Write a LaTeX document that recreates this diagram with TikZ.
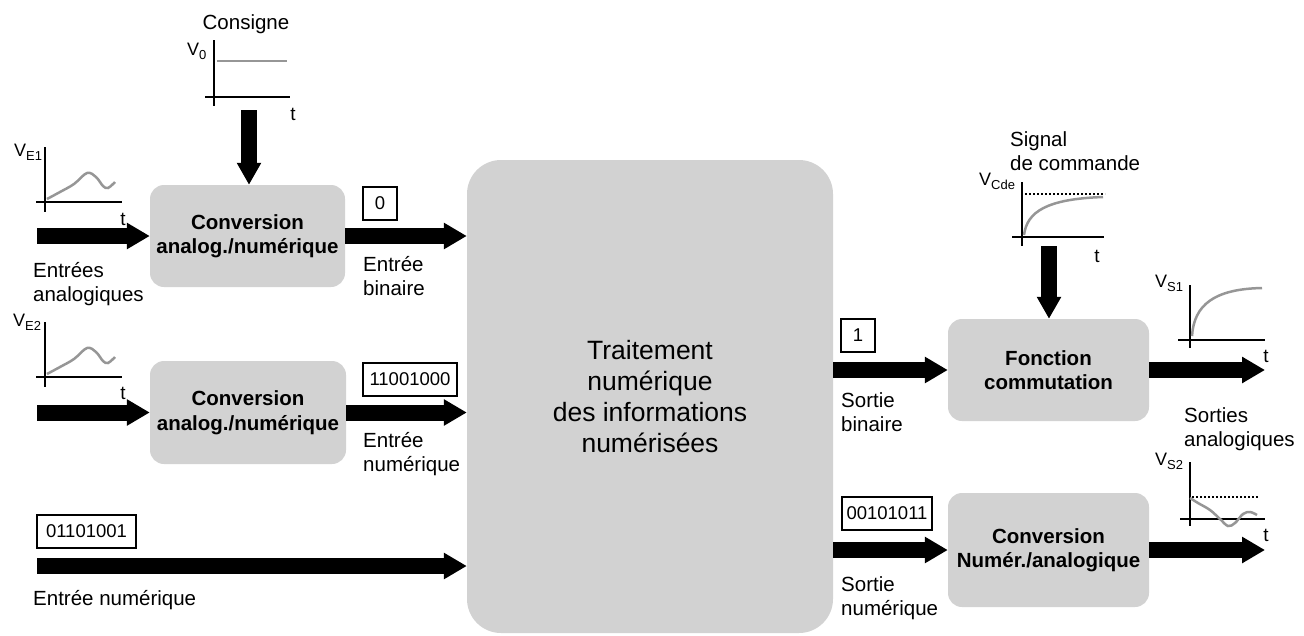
\documentclass[tikz,border=0pt]{standalone}
\usepackage{fontspec}
\setmainfont{Liberation Sans}
\usetikzlibrary{arrows.meta}

\definecolor{boxgray}{RGB}{210,210,210}
\definecolor{curvegray}{RGB}{150,150,150}

\newcommand{\sig}[1]{V\raisebox{-4.5pt}{\fontsize{13}{13}\selectfont #1}}

\tikzset{
  block/.style={fill=boxgray, rounded corners=14pt, align=center, inner sep=0pt,
    font=\bfseries\fontsize{20.5}{24.5}\selectfont},
  flow/.style={line width=16pt, -{Triangle[length=23pt,width=25pt]}},
  vflow/.style={line width=16pt, -{Triangle[length=22pt,width=23pt]}},
  word/.style={font=\fontsize{20.5}{24}\selectfont, align=left, inner sep=0pt, anchor=north west},
  vname/.style={font=\fontsize{18}{20}\selectfont, inner sep=0pt, anchor=base west},
  tick/.style={font=\fontsize{19}{20}\selectfont, inner sep=0pt, anchor=base},
  bits/.style={draw, line width=2pt, font=\fontsize{18.5}{20}\selectfont, inner sep=0pt,
    minimum height=33pt},
  axis/.style={line width=2.5pt},
  trace/.style={curvegray, line width=2.5pt},
  level/.style={line width=2pt, dotted},
}

\begin{document}
\begin{tikzpicture}[x=1pt, y=-1pt]
\useasboundingbox (0,0) rectangle (1304,635);

% processing blocks
\node[block, minimum width=195pt, minimum height=102pt] (can1) at (247.5,236) {Conversion\\analog./numérique};
\node[block, minimum width=196pt, minimum height=103pt] (can2) at (248,412.5) {Conversion\\analog./numérique};
\node[block, rounded corners=34pt, minimum width=366pt, minimum height=473pt,
      font=\fontsize{26.5}{31}\selectfont] (core) at (650,396.5)
      {Traitement\\numérique\\des informations\\numérisées};
\node[block, minimum width=201pt, minimum height=102pt] (comm) at (1048.5,370) {Fonction\\commutation};
\node[block, minimum width=201pt, minimum height=114pt] (cna) at (1048.5,550) {Conversion\\Numér./analogique};

% free ends of the flows
\coordinate (in1) at (37,236);
\coordinate (in2) at (37,412.5);
\coordinate (in3) at (37,566);
\coordinate (out1) at (1265,370);
\coordinate (out2) at (1265,550);
\coordinate (cons) at (249,110);
\coordinate (cde) at (1049,246);

% flows
\draw[flow] (in1) -- (can1.west);
\draw[flow] (can1.east) -- (can1.east -| core.west);
\draw[flow] (in2) -- (can2.west);
\draw[flow] (can2.east) -- (can2.east -| core.west);
\draw[flow] (in3) -- (in3 -| core.west);
\draw[flow] (comm.west -| core.east) -- (comm.west);
\draw[flow] (comm.east) -- (out1);
\draw[flow] (cna.west -| core.east) -- (cna.west);
\draw[flow] (cna.east) -- (out2);
\draw[vflow] (cons) -- (cons |- can1.north);
\draw[vflow] (cde) -- (cde |- comm.north);

% binary words
\node[bits, minimum width=34pt] (w0) at (380,203) {0};
\node[bits, minimum width=94pt] (w1) at (410,379) {11001000};
\node[bits, minimum width=99pt] (w2) at (86.5,531.5) {01101001};
\node[bits, minimum width=34pt] (w3) at (858,335.5) {1};
\node[bits, minimum width=90pt] (w4) at (887,513) {00101011};

% labels
\node[word, anchor=base] (lcons) at (246,29) {Consigne};
\node[word] (lein) at (33,262) {Entrées\\analogiques};
\node[word] (lbin) at (363,256) {Entrée\\binaire};
\node[word] (lnum) at (363,432) {Entrée\\numérique};
\node[word] (lnum2) at (33,590) {Entrée numérique};
\node[word] (lsb) at (841,392) {Sortie\\binaire};
\node[word] (lsn) at (841,576) {Sortie\\numérique};
\node[word] (lsa) at (1184,407) {Sorties\\analogiques};
\node[word] (lsig) at (1010,131) {Signal\\de commande};

% set point V0
\draw[axis] (214,40) -- (214,106);
\draw[axis] (205,97) -- (290,97);
\draw[trace] (217,61) -- (287,61);
\node[vname] (v0) at (187,55) {\sig{0}};
\node[tick] (t0) at (293,120) {t};

% input VE1
\draw[axis] (45,147) -- (45,212);
\draw[axis] (36,202) -- (122,202);
\draw[trace] plot[smooth, tension=0.6] coordinates {(47,199) (60,192) (74,184) (87,173) (96,177) (103,186) (108,188) (115,182)};
\node[vname] (ve1) at (14,156) {\sig{E1}};
\node[tick] (t1) at (123,225) {t};

% input VE2
\draw[axis] (45,322) -- (45,387);
\draw[axis] (36,377) -- (122,377);
\draw[trace] plot[smooth, tension=0.6] coordinates {(47,374) (60,367) (74,359) (87,348) (96,352) (103,361) (108,363) (115,357)};
\node[vname] (ve2) at (13,326) {\sig{E2}};
\node[tick] (t2) at (123,399) {t};

% control signal VCde
\draw[axis] (1022,182) -- (1022,246);
\draw[axis] (1012,237) -- (1104,237);
\draw[level] (1025,194) -- (1105,194);
\draw[trace] (1024,235) .. controls (1027,212) and (1046,199) .. (1103,197);
\node[vname] (vc) at (979,185) {\sig{Cde}};
\node[tick] (t3) at (1097,262) {t};

% output VS1
\draw[axis] (1190,285) -- (1190,348);
\draw[axis] (1178,340) -- (1265,340);
\draw[trace] (1192,336) .. controls (1194,305) and (1214,289) .. (1262,288);
\node[vname] (vs1) at (1155,287) {\sig{S1}};
\node[tick] (t4) at (1266,362) {t};

% output VS2
\draw[axis] (1190,462) -- (1190,526);
\draw[axis] (1180,519) -- (1265,519);
\draw[level] (1192,497) -- (1258,497);
\draw[trace] plot[smooth, tension=0.6] coordinates {(1190,498) (1198,503) (1210,510) (1220,519) (1228,526) (1235,523) (1243,514) (1250,512) (1257,515)};
\node[vname] (vs2) at (1155,465) {\sig{S2}};
\node[tick] (t5) at (1266,541) {t};
\end{tikzpicture}
\end{document}
